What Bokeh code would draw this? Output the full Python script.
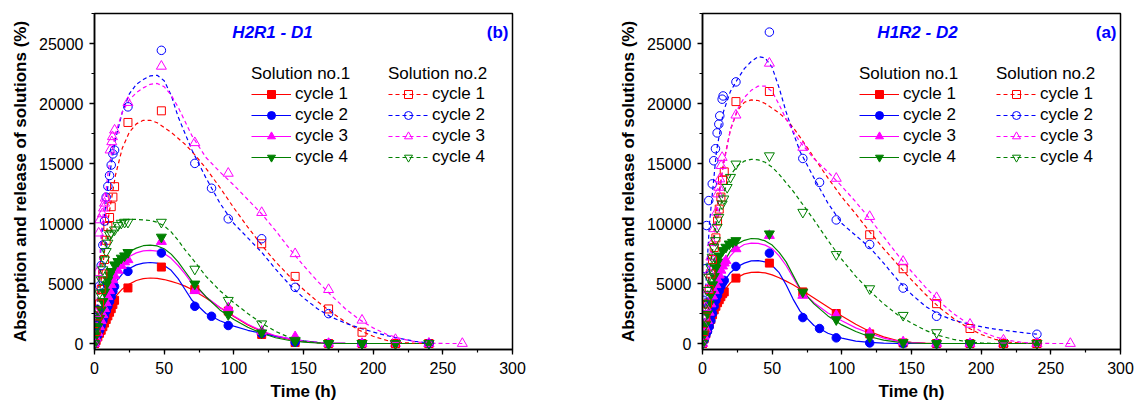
from bokeh.plotting import figure
from bokeh.models import Legend, LegendItem, Label, SingleIntervalTicker, Range1d
from bokeh.layouts import row
from bokeh.embed import file_html
from bokeh.resources import INLINE

NA = float("nan")
FONT = "Liberation Sans"

# ---------------- shared axis values ----------------
X_TICK_STEP = 50
Y_TICK_STEP = 5000
CYCLE_LABELS = ["cycle 1", "cycle 2", "cycle 3", "cycle 4"]
SOLUTION_TITLES = ["Solution no.1", "Solution no.2"]
PANEL_TITLES = ["H2R1 - D1", "H1R2 - D2"]
PANEL_TAGS = ["(b)", "(a)"]

# time grid of the fitted curves (h)
FIT_T = [0, 5, 10, 15, 20, 25, 30, 35, 40, 45, 50, 55, 60, 65, 70, 80, 90, 100, 110, 120,
         130, 140, 150, 160, 170, 180, 190, 200, 210, 220, 230, 240, 252, 264]

# ================= Panel (b) H2R1 - D1 =================
# Solution no.1 (filled markers, solid fits)
D1_S1_C1_T = [0, 1.2, 2.4, 3.6, 4.8, 6, 7.2, 8.4, 9.6, 10.8, 12, 13.2, 14.4, 24, 48, 72, 96, 120, 144, 168, 192, 216, 240]
D1_S1_C1_V = [0, 250, 550, 850, 1100, 1400, 1700, 2000, 2300, 2600, 2900, 3250, 3600, 4630, 6370, 4500, 2700, 750, 80, 0, 0, 0, 0]
D1_S1_C2_T = [0, 1.2, 2.4, 3.6, 4.8, 6, 7.2, 8.4, 9.6, 10.8, 12, 13.2, 14.4, 24, 48, 72, 84, 96, 120, 144, 168, 192, 216, 240]
D1_S1_C2_V = [0, 350, 700, 1100, 1500, 1900, 2300, 2700, 3100, 3500, 3900, 4350, 4750, 6010, 7540, 3100, 2270, 1500, 830, 100, 0, 0, 0, 0]
D1_S1_C3_T = [0, 1.2, 2.4, 3.6, 4.8, 6, 7.2, 8.4, 9.6, 10.8, 12, 13.2, 14.4, 16.8, 19.2, 21.6, 24, 48, 72, 96, 120, 144, 168, 192, 216, 240]
D1_S1_C3_V = [0, 450, 900, 1400, 1900, 2400, 2900, 3400, 3900, 4400, 4900, 5300, 5650, 6100, 6500, 6800, 6980, 8500, 4400, 2960, 1020, 560, 0, 0, 0, 0]
D1_S1_C4_T = [0, 1.2, 2.4, 3.6, 4.8, 6, 7.2, 8.4, 9.6, 10.8, 12, 14.4, 16.8, 19.2, 21.6, 24, 48, 72, 96, 120, 144, 168, 192, 216, 240]
D1_S1_C4_V = [0, 700, 1400, 2100, 2800, 3500, 4300, 4900, 5300, 5700, 6010, 6560, 6840, 7120, 7310, 7590, 8870, 4960, 2410, 890, 190, 0, 0, 0, 0]
# Solution no.2 (open markers, dashed fits)
D1_S2_C1_T = [0, 1.2, 2.4, 3.6, 4.8, 6, 7.2, 8.4, 9.6, 10.8, 12, 13.2, 14.4, 24, 48, 120, 144, 168, 192, 216, 240]
D1_S2_C1_V = [0, 1000, 2300, 3300, 4500, 5800, 7000, 8600, 9750, 10500, 11400, 12200, 13070, 18420, 19390, 8310, 5590, 2880, 940, 0, 0]
D1_S2_C2_T = [0, 1.2, 2.4, 3.6, 4.8, 6, 7.2, 8.4, 9.6, 10.8, 12, 13.2, 14.4, 24, 48, 72, 84, 96, 120, 144, 168, 240]
D1_S2_C2_V = [0, 1500, 2800, 4800, 6500, 8200, 10200, 12200, 13100, 14000, 14870, 15800, 16120, 19720, 24430, 15010, 12940, 10390, 8730, 4680, 2490, 0]
D1_S2_C3_T = [0, 1, 2, 3, 3.8, 5.7, 6.5, 7.2, 7.7, 11.2, 12.4, 12.9, 14.4, 24, 48, 72, 96, 120, 144, 168, 192, 216, 240, 264]
D1_S2_C3_V = [0, 2500, 5900, 9200, 10300, 10800, 11280, 11690, 12110, 16120, 16810, 17230, 17780, 20080, 23100, 16730, 14180, 10910, 7480, 4490, 1940, 330, 0, 0]
D1_S2_C4_T = [0, 1.2, 2.4, 3.6, 4.8, 6, 7.2, 8.4, 9.6, 10.8, 12, 14.4, 16.8, 19.2, 21.6, 24, 48, 72, 96, 120, 144, 168, 192, 216, 240]
D1_S2_C4_V = [0, 1440, 2830, 4210, 5320, 6150, 6980, 7670, 8370, 9060, 9200, 9470, 9830, 10030, 10110, 10110, 10110, 6200, 3600, 1640, 270, 0, 0, 0, 0]
# fitted curves on FIT_T
D1_FIT_S1_C1 = [0, 1700, 3000, 3900, 4550, 4950, 5250, 5400, 5460, 5430, 5330, 5180, 5000, 4780, 4500, 3800, 3000, 2250, 1550, 1000, 600, 330, 170, 80, 30, 10, 0, 0, 0, 0, 0, 0, NA, NA]
D1_FIT_S1_C2 = [0, 2300, 4000, 5100, 5800, 6250, 6550, 6700, 6750, 6700, 6500, 6100, 5400, 4500, 3600, 2500, 1900, 1450, 1100, 850, 600, 400, 220, 100, 40, 10, 0, 0, 0, 0, 0, 0, NA, NA]
D1_FIT_S1_C3 = [0, 2600, 4500, 5800, 6700, 7250, 7550, 7720, 7760, 7700, 7500, 7100, 6500, 5800, 5000, 3900, 3000, 2300, 1600, 1050, 650, 380, 200, 90, 35, 10, 0, 0, 0, 0, 0, 0, NA, NA]
D1_FIT_S1_C4 = [0, 2900, 4900, 6200, 7100, 7650, 7950, 8150, 8200, 8130, 7900, 7450, 6800, 6000, 5200, 3900, 2800, 2000, 1350, 850, 480, 250, 110, 40, 10, 0, 0, 0, 0, 0, 0, 0, NA, NA]
D1_FIT_S2_C1 = [0, 5500, 10500, 14000, 16300, 17600, 18300, 18600, 18600, 18400, 18000, 17600, 17100, 16600, 16000, 14600, 13000, 11300, 9700, 8200, 6800, 5600, 4500, 3500, 2600, 1800, 1100, 600, 250, 80, 20, 0, NA, NA]
D1_FIT_S2_C2 = [0, 8500, 13500, 17000, 19300, 20800, 21600, 22000, 22300, 22350, 21900, 20700, 18900, 17500, 16100, 13800, 11700, 10000, 8800, 7600, 6200, 4900, 3800, 2900, 2200, 1700, 1300, 950, 650, 400, 180, 50, NA, NA]
D1_FIT_S2_C3 = [0, 9500, 14500, 17500, 19300, 20300, 20900, 21300, 21600, 21670, 21400, 20700, 19700, 18500, 17300, 15500, 14300, 13200, 12000, 10800, 9400, 7900, 6500, 5200, 4000, 2900, 2000, 1300, 750, 400, 150, 30, 0, 0]
D1_FIT_S2_C4 = [0, 7000, 9000, 9900, 10250, 10350, 10350, 10300, 10250, 10100, 9800, 9300, 8600, 7800, 7100, 5600, 4400, 3400, 2500, 1700, 1000, 500, 200, 60, 0, 0, 0, 0, 0, 0, 0, 0, NA, NA]

# ================= Panel (a) H1R2 - D2 =================
D2_S1_C1_T = [0, 1.2, 2.4, 3.6, 4.8, 6, 7.2, 8.4, 9.6, 10.8, 12, 13.2, 14.4, 15.6, 24, 48, 72, 96, 120, 144, 168, 192, 216, 240]
D2_S1_C1_V = [0, 400, 800, 1200, 1600, 2000, 2400, 2800, 3100, 3400, 3650, 3900, 4150, 4300, 5450, 6700, 4300, 2500, 800, 50, 0, 0, 0, 0]
D2_S1_C2_T = [0, 1.2, 2.4, 3.6, 4.8, 6, 7.2, 8.4, 9.6, 10.8, 12, 13.2, 14.4, 15.6, 24, 48, 72, 84, 96, 120, 144, 168, 192, 216, 240]
D2_S1_C2_V = [0, 300, 700, 1000, 1400, 1900, 2500, 3100, 3600, 4000, 4400, 4750, 5050, 5260, 6420, 7530, 2160, 1250, 470, 50, 0, 0, 0, 0, 0]
D2_S1_C3_T = [0, 1.2, 2.4, 3.6, 4.8, 6, 7.2, 8.4, 9.6, 10.8, 12, 13.2, 14.4, 15.6, 16.8, 24, 48, 72, 96, 120, 144, 168, 192, 216, 240]
D2_S1_C3_V = [0, 600, 1200, 1900, 2600, 3300, 3950, 4400, 4900, 5300, 5700, 6100, 6450, 6700, 6900, 7890, 9000, 4010, 2350, 880, 130, 0, 0, 0, 0]
D2_S1_C4_T = [0, 1.2, 2.4, 3.6, 4.8, 6, 7.2, 8.4, 9.6, 10.8, 12, 14.4, 16.8, 19.2, 21.6, 24, 48, 72, 96, 120, 144, 168, 192, 216, 240]
D2_S1_C4_V = [0, 800, 1600, 2500, 3300, 4100, 4900, 5600, 6300, 6800, 7300, 7750, 8030, 8300, 8440, 8580, 9140, 4290, 1990, 550, 80, 0, 0, 0, 0]
D2_S2_C1_T = [0, 1.2, 2.4, 3.6, 4.8, 6, 7.2, 8.4, 9.6, 10.8, 12, 13.2, 14.4, 15.6, 24, 48, 120, 144, 168, 192, 216, 240]
D2_S2_C1_V = [0, 1000, 2200, 3300, 4500, 5800, 7000, 8000, 8800, 10200, 11200, 12200, 13600, 14300, 20160, 21000, 9060, 6230, 3320, 1250, 0, 0]
D2_S2_C2_T = [0, 1, 2, 2.9, 4.5, 7, 8.1, 9.3, 10.5, 11.7, 12.4, 14.1, 14.8, 24, 48, 72, 84, 96, 120, 144, 168, 240]
D2_S2_C2_V = [0, 3600, 6230, 9830, 11910, 13300, 15230, 16230, 17550, 18280, 18970, 20360, 20630, 21800, 25950, 15420, 13430, 10300, 8250, 4620, 2270, 770]
D2_S2_C3_T = [0, 1.2, 2.4, 3.6, 4.8, 6, 7.2, 8.4, 10, 11, 11.7, 12.4, 13.4, 14.1, 24, 48, 72, 96, 120, 144, 168, 192, 216, 240, 264]
D2_S2_C3_V = [0, 1500, 3000, 4500, 6000, 7200, 8400, 9560, 10940, 12460, 13010, 13710, 14820, 15500, 19030, 23350, 16340, 13760, 10580, 6840, 3820, 1600, 280, 0, 0]
D2_S2_C4_T = [0, 1, 1.4, 2.2, 3.3, 4.5, 5.7, 6.9, 8.1, 9.3, 10.5, 11.7, 14.1, 15.3, 17.7, 20.1, 24, 48, 72, 96, 120, 144, 168, 192, 216, 240]
D2_S2_C4_V = [0, 1380, 2210, 3320, 4430, 5530, 6370, 7200, 8030, 8580, 9690, 10520, 11630, 12050, 13010, 13850, 14960, 15650, 10940, 7420, 4570, 2350, 910, 0, 0, 0]
D2_FIT_S1_C1 = [0, 1900, 3300, 4350, 5050, 5500, 5800, 5930, 5950, 5880, 5720, 5480, 5200, 4900, 4550, 3800, 3050, 2300, 1600, 1000, 550, 250, 100, 30, 0, 0, 0, 0, 0, 0, 0, 0, NA, NA]
D2_FIT_S1_C2 = [0, 2200, 3900, 5100, 5900, 6400, 6700, 6880, 6900, 6800, 6500, 5900, 4900, 3700, 2700, 1500, 850, 450, 200, 90, 30, 0, 0, 0, 0, 0, 0, 0, 0, 0, 0, 0, NA, NA]
D2_FIT_S1_C3 = [0, 2700, 4800, 6300, 7300, 7900, 8250, 8360, 8350, 8200, 7900, 7300, 6500, 5500, 4500, 3400, 2550, 1900, 1300, 850, 450, 200, 70, 20, 0, 0, 0, 0, 0, 0, 0, 0, NA, NA]
D2_FIT_S1_C4 = [0, 2900, 5100, 6700, 7700, 8300, 8600, 8750, 8720, 8550, 8200, 7600, 6800, 5700, 4600, 3300, 2300, 1550, 1000, 560, 280, 120, 40, 0, 0, 0, 0, 0, 0, 0, 0, 0, NA, NA]
D2_FIT_S2_C1 = [0, 6000, 11000, 15000, 17800, 19400, 20100, 20300, 20250, 20000, 19600, 19200, 18700, 18000, 17200, 15500, 13800, 12200, 10800, 9300, 7900, 6600, 5300, 4100, 3000, 2100, 1350, 750, 350, 120, 30, 0, NA, NA]
D2_FIT_S2_C2 = [0, 10000, 16000, 19300, 21000, 22000, 22900, 23500, 23900, 23800, 23000, 21300, 19300, 17600, 16000, 13800, 11700, 10000, 9000, 8000, 6700, 5300, 4100, 3100, 2400, 1950, 1650, 1400, 1200, 1050, 900, 780, NA, NA]
D2_FIT_S2_C3 = [0, 5500, 10500, 14800, 17800, 19500, 20500, 21100, 21450, 21460, 21000, 19900, 18700, 17700, 16800, 15400, 14300, 13100, 11800, 10400, 8900, 7400, 6000, 4700, 3500, 2500, 1700, 1000, 550, 250, 80, 10, 0, 0]
D2_FIT_S2_C4 = [0, 6000, 10000, 12500, 14000, 14800, 15200, 15350, 15300, 15100, 14700, 14100, 13400, 12700, 11900, 10300, 8600, 7000, 5600, 4400, 3300, 2400, 1700, 1100, 650, 350, 150, 50, 0, 0, 0, 0, NA, NA]

COLORS = ["#FF0000", "#0000FF", "#FF00FF", "#008000"]
MARKERS = ["square", "circle", "triangle", "inverted_triangle"]
MARKER_SIZES = [8, 8.5, 10, 10]

PANELS = [
    {
        "s1": [(D1_S1_C1_T, D1_S1_C1_V), (D1_S1_C2_T, D1_S1_C2_V), (D1_S1_C3_T, D1_S1_C3_V), (D1_S1_C4_T, D1_S1_C4_V)],
        "s2": [(D1_S2_C1_T, D1_S2_C1_V), (D1_S2_C2_T, D1_S2_C2_V), (D1_S2_C3_T, D1_S2_C3_V), (D1_S2_C4_T, D1_S2_C4_V)],
        "f1": [D1_FIT_S1_C1, D1_FIT_S1_C2, D1_FIT_S1_C3, D1_FIT_S1_C4],
        "f2": [D1_FIT_S2_C1, D1_FIT_S2_C2, D1_FIT_S2_C3, D1_FIT_S2_C4],
    },
    {
        "s1": [(D2_S1_C1_T, D2_S1_C1_V), (D2_S1_C2_T, D2_S1_C2_V), (D2_S1_C3_T, D2_S1_C3_V), (D2_S1_C4_T, D2_S1_C4_V)],
        "s2": [(D2_S2_C1_T, D2_S2_C1_V), (D2_S2_C2_T, D2_S2_C2_V), (D2_S2_C3_T, D2_S2_C3_V), (D2_S2_C4_T, D2_S2_C4_V)],
        "f1": [D2_FIT_S1_C1, D2_FIT_S1_C2, D2_FIT_S1_C3, D2_FIT_S1_C4],
        "f2": [D2_FIT_S2_C1, D2_FIT_S2_C2, D2_FIT_S2_C3, D2_FIT_S2_C4],
    },
]


def make_panel(idx, width, border_left, border_right, title_x):
    d = PANELS[idx]
    p = figure(width=width, height=403, x_range=Range1d(0, 300), y_range=Range1d(-500, 27500),
               output_backend="svg", toolbar_location=None,
               min_border_left=border_left, min_border_right=border_right,
               min_border_top=13, min_border_bottom=53)
    p.grid.visible = False
    p.outline_line_color = "black"
    p.outline_line_width = 1.5
    p.background_fill_color = "white"
    p.border_fill_color = "white"

    p.xaxis.ticker = SingleIntervalTicker(interval=X_TICK_STEP, num_minor_ticks=2)
    p.yaxis.ticker = SingleIntervalTicker(interval=Y_TICK_STEP, num_minor_ticks=2)
    for ax in (p.xaxis, p.yaxis):
        ax.axis_line_width = 1.5
        ax.axis_line_color = "black"
        ax.major_tick_in = 0
        ax.major_tick_out = 5
        ax.minor_tick_in = 0
        ax.minor_tick_out = 3
        ax.major_tick_line_width = 1.3
        ax.minor_tick_line_width = 1.2
        ax.major_tick_line_color = "black"
        ax.minor_tick_line_color = "black"
        ax.major_label_text_font = FONT
        ax.major_label_text_font_size = "16px"
        ax.major_label_text_color = "black"
        ax.axis_label_text_font = FONT
        ax.axis_label_text_font_size = "17px"
        ax.axis_label_text_font_style = "bold"
        ax.axis_label_text_color = "black"
    p.xaxis.axis_label = "Time (h)"
    p.yaxis.axis_label = "Absorption and release of solutions (%)"
    p.xaxis.major_label_standoff = 7
    p.xaxis.axis_label_standoff = 5
    p.yaxis.major_label_standoff = 6
    p.yaxis.axis_label_standoff = 6

    items1, items2 = [], []
    lines1, lines2 = [], []
    for c in range(4):
        lines1.append(p.line(FIT_T, d["f1"][c], line_color=COLORS[c], line_width=1.2))
    for c in range(4):
        lines2.append(p.line(FIT_T, d["f2"][c], line_color=COLORS[c], line_width=1.2, line_dash="4 3"))
    for c in range(4):
        t, v = d["s1"][c]
        r = p.scatter(t, v, marker=MARKERS[c], size=MARKER_SIZES[c], fill_color=COLORS[c],
                      line_color=COLORS[c], line_width=1)
        items1.append(LegendItem(label=CYCLE_LABELS[c], renderers=[lines1[c], r]))
    for c in range(4):
        t, v = d["s2"][c]
        r = p.scatter(t, v, marker=MARKERS[c], size=MARKER_SIZES[c], fill_alpha=0,
                      line_color=COLORS[c], line_width=1)
        items2.append(LegendItem(label=CYCLE_LABELS[c], renderers=[lines2[c], r]))

    for items, title, lx in ((items1, SOLUTION_TITLES[0], 157), (items2, SOLUTION_TITLES[1], 294)):
        leg = Legend(items=items, title=title, location=(lx, 182))
        leg.title_text_font = FONT
        leg.title_text_font_size = "17px"
        leg.title_text_font_style = "normal"
        leg.title_text_color = "black"
        leg.title_standoff = -1
        leg.label_text_font = FONT
        leg.label_text_font_size = "17px"
        leg.label_text_color = "black"
        leg.glyph_width = 40
        leg.glyph_height = 20
        leg.label_height = 20
        leg.label_standoff = 4
        leg.spacing = 1
        leg.padding = 0
        leg.margin = 0
        leg.border_line_alpha = 0
        leg.background_fill_alpha = 0
        p.add_layout(leg, "center")

    p.add_layout(Label(x=title_x, y=317, x_units="screen", y_units="screen", text=PANEL_TITLES[idx],
                       text_font=FONT, text_font_size="17px", text_font_style="bold italic",
                       text_color="#0000FF", text_align="center", text_baseline="middle"))
    p.add_layout(Label(x=414, y=317, x_units="screen", y_units="screen", text=PANEL_TAGS[idx],
                       text_font=FONT, text_font_size="17px", text_font_style="bold",
                       text_color="#0000FF", text_align="right", text_baseline="middle"))
    return p


p1 = make_panel(0, 616, 94, 104, 178)
p2 = make_panel(1, 518, 86, 14, 215)
layout = row(p1, p2)

open("out.html", "w").write(file_html(layout, INLINE))
